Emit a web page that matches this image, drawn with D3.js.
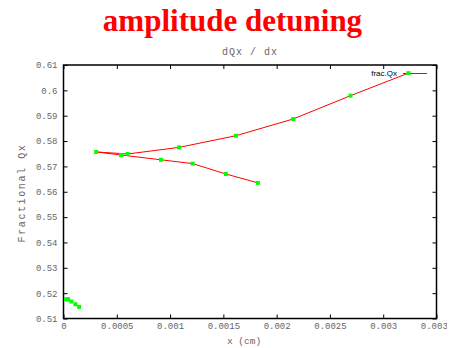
<!DOCTYPE html>
<html>
<head>
<meta charset="utf-8">
<script src="https://cdn.jsdelivr.net/npm/d3@7"></script>
<style>
  html, body { margin: 0; padding: 0; background: #fff; }
  svg { display: block; }
</style>
</head>
<body>
<svg id="chart" width="454" height="348"></svg>
<script>
// Tune scan: fractional horizontal tune vs. amplitude
const branchX = [0.001824, 0.001524, 0.001212, 0.000915, 0.000540, 0.000306,
                 0.000603, 0.001084, 0.001618, 0.002155, 0.002693, 0.003237];
const branchQ = [0.5635, 0.5670, 0.5711, 0.5726, 0.5745, 0.5757,
                 0.5749, 0.5775, 0.5821, 0.5887, 0.5979, 0.6068];
const clusterX = [0.0000244, 0.000043, 0.000074, 0.000112, 0.000146];
const clusterQ = [0.5176, 0.5176, 0.5167, 0.5156, 0.5146];

const xTicks = [0, 0.0005, 0.001, 0.0015, 0.002, 0.0025, 0.003, 0.0035];
const xTickLabels = ["0", "0.0005", "0.001", "0.0015", "0.002", "0.0025", "0.003", "0.0035"];
const yTicks = [0.51, 0.52, 0.53, 0.54, 0.55, 0.56, 0.57, 0.58, 0.59, 0.6, 0.61];
const yTickLabels = ["0.51", "0.52", "0.53", "0.54", "0.55", "0.56", "0.57", "0.58", "0.59", "0.6", "0.61"];

const svg = d3.select("#chart");
const plot = { left: 63.5, right: 436.5, top: 65, bottom: 318.5 };

const x = d3.scaleLinear().domain([0, 0.0035]).range([plot.left, plot.right]);
const y = d3.scaleLinear().domain([0.51, 0.61]).range([plot.bottom, plot.top]);

const mono = "'Liberation Mono', 'DejaVu Sans Mono', monospace";
const grey = "#666";

// Canvas edge: the last x tick label runs off the right side
svg.append("defs").append("clipPath").attr("id", "canvas-edge")
  .append("rect").attr("x", 0).attr("y", 0).attr("width", 447).attr("height", 348);

// Title and subtitle
svg.append("text")
  .attr("x", 232.5).attr("y", 31)
  .attr("text-anchor", "middle")
  .attr("font-family", "'Liberation Serif', 'Times New Roman', serif")
  .attr("font-weight", "bold")
  .attr("font-size", 31)
  .attr("fill", "#ff0000")
  .text("amplitude detuning");

svg.append("text")
  .attr("x", 250).attr("y", 55)
  .attr("text-anchor", "middle")
  .attr("font-family", mono)
  .attr("font-size", 10)
  .attr("letter-spacing", 1)
  .attr("fill", grey)
  .text("dQx / dx");

// Axes with inward ticks on all four sides
function styleAxis(g) {
  g.select(".domain").remove();
  g.selectAll(".tick line").attr("stroke", "#000");
  g.selectAll(".tick text").attr("fill", grey).attr("font-family", mono).attr("font-size", 9);
}

svg.append("g")
  .attr("clip-path", "url(#canvas-edge)")
  .append("g")
  .attr("transform", `translate(0,${plot.bottom})`)
  .call(d3.axisBottom(x).tickValues(xTicks).tickFormat((d, i) => xTickLabels[i])
        .tickSizeInner(-4).tickSizeOuter(0).tickPadding(4))
  .call(styleAxis);

svg.append("g")
  .attr("transform", `translate(0,${plot.top})`)
  .call(d3.axisTop(x).tickValues(xTicks).tickFormat("")
        .tickSizeInner(-4).tickSizeOuter(0))
  .call(styleAxis);

svg.append("g")
  .attr("transform", `translate(${plot.left},0)`)
  .call(d3.axisLeft(y).tickValues(yTicks).tickFormat((d, i) => yTickLabels[i])
        .tickSizeInner(-4).tickSizeOuter(0).tickPadding(6))
  .call(styleAxis);

svg.append("g")
  .attr("transform", `translate(${plot.right},0)`)
  .call(d3.axisRight(y).tickValues(yTicks).tickFormat("")
        .tickSizeInner(-4).tickSizeOuter(0))
  .call(styleAxis);

// Plot border
svg.append("rect")
  .attr("x", plot.left).attr("y", plot.top)
  .attr("width", plot.right - plot.left).attr("height", plot.bottom - plot.top)
  .attr("fill", "none").attr("stroke", "#000").attr("stroke-width", 1.5);

// Axis titles
svg.append("text")
  .attr("x", 244).attr("y", 344)
  .attr("text-anchor", "middle")
  .attr("font-family", mono).attr("font-size", 9.5)
  .attr("fill", grey)
  .text("x (cm)");

svg.append("text")
  .attr("transform", "translate(25,193) rotate(-90)")
  .attr("text-anchor", "middle")
  .attr("font-family", mono).attr("font-size", 10)
  .attr("letter-spacing", 1.6)
  .attr("fill", grey)
  .text("Fractional Qx");

// Data line and markers
const line = d3.line().x(d => x(d[0])).y(d => y(d[1]));
const branch = branchX.map((v, i) => [v, branchQ[i]]);
const cluster = clusterX.map((v, i) => [v, clusterQ[i]]);

svg.append("path")
  .datum(branch)
  .attr("d", line)
  .attr("fill", "none")
  .attr("stroke", "#ff0000")
  .attr("stroke-width", 1);

// Key
svg.append("text")
  .attr("x", 397).attr("y", 76)
  .attr("text-anchor", "end")
  .attr("font-family", "'Liberation Sans', Arial, sans-serif")
  .attr("font-size", 8)
  .attr("fill", "#000")
  .text("frac.Qx");
svg.append("line")
  .attr("x1", 403).attr("x2", 427).attr("y1", 73.5).attr("y2", 73.5)
  .attr("stroke", "#ff0000").attr("stroke-width", 1);

const pts = branch.concat(cluster);
svg.selectAll("rect.pt")
  .data(pts)
  .join("rect")
  .attr("class", "pt")
  .attr("x", d => x(d[0]) - 2)
  .attr("y", d => y(d[1]) - 2)
  .attr("width", 4).attr("height", 4)
  .attr("fill", "#00ff00");
</script>
</body>
</html>
